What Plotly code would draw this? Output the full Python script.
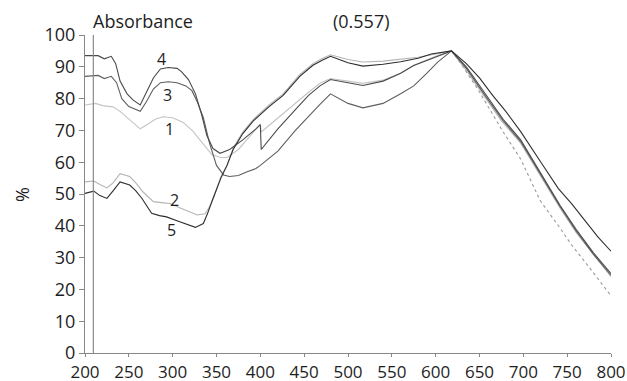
import plotly.graph_objects as go

# ---- data (wavelength nm, % ) ----
x1 = [200,212,220,232,240,250,263,272,280,289,300,312,323,331,339,345,355,362,375,390,400,401,420,440,455,468,480,500,517,540,560,575,600,618,630,648,665,677,697,719,740,755,775,800]
y1 = [78,78.5,77.8,77.4,76,73.5,70.5,72,73.5,74.3,74,72.5,69.8,67,64.3,62.3,61.5,61.5,64,69,72,69.5,74,78.5,82,84.8,86.3,85.5,84.8,85.8,88,90.5,93.3,95,90.5,83,75,69.5,61,48,40,34,27,18]

x2 = [200,210,217,225,232,240,251,258,266,278,290,297,308,318,328,337,342,347,355,362,369,380,392,410,426,445,460,470,480,500,517,540,560,580,600,618,632,652,675,697,720,742,760,780,800]
y2 = [53.8,54.1,53,51.9,53.5,56.4,55.5,53.5,50.7,47.6,47.2,47,45.7,44.5,43.4,43.8,46,49,55.5,59,64.5,69.5,73.5,78,81.5,87.5,91,92.5,93.8,92.3,91.5,91.8,92.3,93,94,95,90,82,73,66,55.5,45.5,38,31,24]

x3 = [200,215,222,230,236,242,250,263,270,278,286,295,305,315,322,328,335,342,350,358,365,375,385,395,400,420,440,455,468,480,500,517,540,560,575,590,602,618,635,655,677,697,720,742,760,780,800]
y3 = [87,87.3,86.3,87,85,80,77.5,76,79,83,85,85.3,85,84,82.5,79,74,66,59,56,55.5,55.8,57,58,59,63.5,70,74.5,78.2,81.5,78.5,77.1,78.5,81.5,84,88,91.4,95,89.5,81.5,73,66.5,56,46,38.5,31,24.5]

x4 = [200,215,222,230,235,240,248,255,263,270,278,286,295,305,310,318,326,333,339,346,354,365,380,395,400,401,420,440,455,468,480,500,517,540,560,575,600,618,635,655,677,697,720,742,760,780,800]
y4 = [93.5,93.5,92.5,93.3,91,85.5,81.5,79.5,78,82,86.5,89.3,89.8,89.5,88.5,86,81.5,75,68.4,64.3,62.8,64,67,70.5,71.8,64,70.5,76.5,81,84,86,85,84.1,85.5,88,90.4,93,95,90,82,73.5,67,56.5,46.4,39,31.5,25]

x5 = [200,210,217,225,232,240,251,258,265,276,285,293,308,318,326,335,340,346,355,362,369,380,392,410,426,445,460,470,480,500,517,540,560,580,595,618,635,650,665,680,697,720,740,755,768,785,800]
y5 = [50.2,50.9,49.5,48.6,51,53.8,52.8,51,48.6,43.9,43.2,42.8,41.3,40.3,39.5,40.7,44,48.6,55,59,64,69,73,77.5,81,87,90.5,92,93.3,91.3,90.2,90.8,91.6,92.7,94,95,91,86.5,81,76,69.6,60,51.7,47,42.3,36.5,32]

curve_labels = ["4", "3", "1", "2", "5"]
label_x = [287, 294, 296, 302, 299]
label_y = [92.5, 81.2, 70.5, 48, 38.7]

baseline_x = 209.5
x_ticks = list(range(200, 801, 50))
y_ticks = list(range(0, 101, 10))

FONT = "Open Sans"
TXT = "#1e1e1e"
fig = go.Figure()

peak_i = x1.index(618)
fig.add_trace(go.Scatter(x=x1[:peak_i + 1], y=y1[:peak_i + 1], mode="lines",
                         line=dict(color="#c4c4c4", width=1.1)))
fig.add_trace(go.Scatter(x=x1[peak_i:], y=y1[peak_i:], mode="lines",
                         line=dict(color="#9a9a9a", width=1.1, dash="dot")))
fig.add_trace(go.Scatter(x=x2, y=y2, mode="lines", line=dict(color="#b4b4b4", width=1.1)))
fig.add_trace(go.Scatter(x=x3, y=y3, mode="lines", line=dict(color="#5e5e5e", width=1.1)))
fig.add_trace(go.Scatter(x=x4, y=y4, mode="lines", line=dict(color="#4a4a4a", width=1.1)))
fig.add_trace(go.Scatter(x=x5, y=y5, mode="lines", line=dict(color="#2e2e2e", width=1.1)))

fig.add_shape(type="line", x0=baseline_x, x1=baseline_x, y0=0, y1=100,
              xref="x", yref="y", line=dict(color="#8a8a8a", width=1.2))

for t, lx, ly in zip(curve_labels, label_x, label_y):
    fig.add_annotation(x=lx, y=ly, text=t, showarrow=False,
                       font=dict(family=FONT, size=16, color=TXT))

fig.add_annotation(x=0.012, y=1.044, xref="paper", yref="paper", text="Absorbance",
                   showarrow=False, xanchor="left", yanchor="middle",
                   font=dict(family=FONT, size=18, color=TXT))
fig.add_annotation(x=0.525, y=1.044, xref="paper", yref="paper", text="(0.557)",
                   showarrow=False, xanchor="center", yanchor="middle",
                   font=dict(family=FONT, size=18, color=TXT))
fig.add_annotation(x=-0.12, y=0.5, xref="paper", yref="paper", text="%", showarrow=False,
                   textangle=-90, xanchor="center", yanchor="middle",
                   font=dict(family=FONT, size=18, color=TXT))

fig.update_layout(
    width=627, height=381,
    margin=dict(l=85, r=16, t=35, b=28, autoexpand=False),
    paper_bgcolor="white", plot_bgcolor="white",
    showlegend=False,
    font=dict(family=FONT, size=18, color=TXT),
)
fig.update_xaxes(range=[200, 800], tickvals=x_ticks, ticks="outside", ticklen=3,
                 tickcolor="#888", showline=True, linecolor="#888", linewidth=1.2,
                 showgrid=False, zeroline=False, automargin=False,
                 tickfont=dict(family=FONT, size=17, color=TXT))
fig.update_yaxes(range=[0, 100], tickvals=y_ticks, ticks="outside", ticklen=5,
                 tickcolor="#888", showline=True, linecolor="#888", linewidth=1.2,
                 showgrid=False, zeroline=False, automargin=False,
                 tickfont=dict(family=FONT, size=18, color=TXT))

fig.write_html("out.html")
